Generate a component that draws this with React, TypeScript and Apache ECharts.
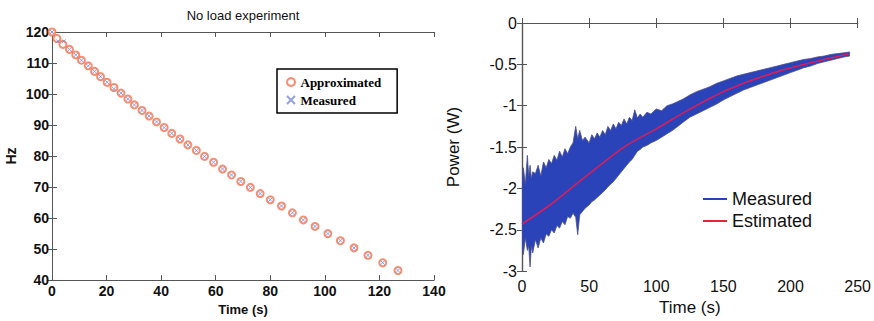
import React, { useEffect, useRef } from "react";
import * as echarts from "echarts";

// ---------- Left chart: No load experiment ----------
const approxT = [0, 1.8, 4.0, 6.4, 8.7, 10.8, 13.3, 15.6, 17.8, 20.2, 22.7, 25.3, 27.8, 30.2, 33.0, 35.6, 38.3, 41.1, 43.9, 46.9, 49.8, 52.9, 55.9, 59.2, 62.5, 65.8, 69.2, 72.7, 76.3, 80.0, 84.1, 88.1, 92.1, 96.4, 101.1, 105.7, 110.7, 115.8, 121.2, 126.8];
const approxHz = [120, 117.9, 116.0, 114.4, 112.6, 110.9, 109.1, 107.3, 105.6, 103.8, 102.1, 100.3, 98.4, 96.5, 94.7, 92.9, 91.0, 89.2, 87.3, 85.5, 83.6, 81.8, 79.9, 78.0, 75.8, 73.9, 71.8, 69.9, 67.9, 65.9, 63.9, 61.7, 59.4, 57.3, 55.0, 52.7, 50.4, 48.0, 45.6, 43.1];
const measT = [0, 2.2, 4.3, 6.4, 8.7, 10.8, 13.3, 15.6, 17.8, 20.2, 22.7, 25.3, 27.8, 30.2, 33.0, 35.6, 38.3, 41.1, 43.9, 46.9, 49.8, 52.9, 55.9, 59.2, 62.5, 65.8, 69.2, 72.7, 76.3, 80.0, 84.1, 88.1, 92.1, 96.4, 101.1, 105.7, 110.7, 115.8, 121.2, 126.8];
const measHz = [120, 117.0, 117.0, 114.4, 112.6, 110.9, 109.1, 107.3, 105.6, 103.8, 101.7, 100.3, 98.4, 96.5, 94.7, 92.9, 91.0, 89.2, 87.3, 85.5, 83.6, 81.8, 79.9, 78.0, 75.8, 73.9, 71.8, 69.9, 67.9, 65.9, 63.9, 61.7, 59.4, 57.3, 55.0, 52.7, 50.4, 48.0, 45.6, 43.1];

// ---------- Right chart: Power ----------
const bandT = [0, 1, 2.5, 4, 5, 6, 7, 8, 10, 12, 14, 16, 18, 20, 22, 24, 26, 28, 30, 32, 34, 36, 38, 40, 41.5, 43, 45, 47, 50, 52, 54, 56, 58, 60, 62, 64, 66, 68, 70, 72, 74, 76, 78, 80, 82, 84, 86, 88, 90, 93, 96, 100, 104, 108, 112, 116, 120, 125, 130, 135, 140, 145, 150, 155, 160, 165, 170, 175, 180, 185, 190, 195, 200, 205, 210, 215, 220, 225, 230, 235, 240, 244];
const bandUpper = [-1.95, -1.75, -1.95, -1.6, -1.85, -1.72, -1.88, -1.8, -1.82, -1.72, -1.85, -1.68, -1.75, -1.65, -1.7, -1.6, -1.66, -1.55, -1.62, -1.52, -1.58, -1.5, -1.45, -1.25, -1.4, -1.3, -1.42, -1.38, -1.45, -1.35, -1.4, -1.33, -1.38, -1.3, -1.35, -1.25, -1.3, -1.22, -1.28, -1.2, -1.24, -1.16, -1.22, -1.14, -1.18, -1.05, -1.15, -1.1, -1.14, -1.08, -1.1, -1.04, -1.06, -1.0, -0.98, -0.95, -0.92, -0.87, -0.83, -0.8, -0.77, -0.73, -0.7, -0.67, -0.64, -0.62, -0.6, -0.58, -0.56, -0.54, -0.52, -0.5, -0.48, -0.46, -0.44, -0.43, -0.41, -0.4, -0.38, -0.37, -0.36, -0.35];
const bandLower = [-2.65, -2.8, -2.6, -2.75, -2.7, -2.95, -2.7, -2.78, -2.62, -2.72, -2.6, -2.66, -2.55, -2.58, -2.5, -2.54, -2.45, -2.48, -2.4, -2.44, -2.34, -2.36, -2.3, -2.35, -2.56, -2.32, -2.28, -2.24, -2.2, -2.16, -2.14, -2.11, -2.08, -2.05, -2.02, -1.98, -1.95, -1.92, -1.88, -1.84, -1.8, -1.76, -1.72, -1.68, -1.65, -1.6, -1.55, -1.53, -1.5, -1.48, -1.45, -1.42, -1.38, -1.34, -1.3, -1.25, -1.2, -1.14, -1.1, -1.06, -1.02, -0.98, -0.93, -0.89, -0.85, -0.81, -0.78, -0.75, -0.72, -0.69, -0.66, -0.63, -0.6, -0.57, -0.54, -0.52, -0.49, -0.47, -0.45, -0.43, -0.41, -0.4];
const estT = [0, 20, 44, 76, 100, 124, 154, 194, 243];
const estP = [-2.43, -2.21, -1.9, -1.5, -1.28, -1.05, -0.8, -0.57, -0.375];

const leftXTicks = { min: 0, max: 140, interval: 20 };
const leftYTicks = { min: 40, max: 120, interval: 10 };
const rightXTicks = { min: 0, max: 250, interval: 50 };
const rightYTicks = { min: -3, max: 0, interval: 0.5 };

const SANS = "Liberation Sans, Arial, Helvetica, sans-serif";
const SERIF = "Liberation Serif, Times New Roman, serif";

export default function App() {
  const ref = useRef<HTMLDivElement>(null);
  useEffect(() => {
    if (!ref.current) return;
    const chart = echarts.init(ref.current, null, { renderer: "svg" });
    const axisLineL = { lineStyle: { color: "#555", width: 1 } };
    const axisLineR = { lineStyle: { color: "#555", width: 1.2 } };
    const tickIn = (c: string) => ({ inside: true, length: 5, lineStyle: { color: c } });

    const bandRender = (params: any, api: any) => {
      if (params.dataIndex !== 0) return null;
      const pts: number[][] = [];
      for (let i = 0; i < bandT.length; i++) pts.push(api.coord([bandT[i], bandUpper[i]]));
      for (let i = bandT.length - 1; i >= 0; i--) pts.push(api.coord([bandT[i], bandLower[i]]));
      return {
        type: "polygon",
        shape: { points: pts },
        style: { fill: "#2b43b8", stroke: "#4a4f8a", lineWidth: 0.8 },
      };
    };

    const option: any = {
      animation: false,
      backgroundColor: "#fff",
      grid: [
        { left: 52, top: 32, width: 382, height: 255 },
        { left: 522, top: 23, width: 337, height: 254 },
      ],
      xAxis: [
        {
          gridIndex: 0, type: "value", ...leftXTicks,
          axisLine: axisLineL, axisTick: tickIn("#555"), splitLine: { show: false },
          axisLabel: { color: "#111", fontSize: 14, fontWeight: "bold", fontFamily: SANS, margin: 4 },
          name: "Time (s)", nameLocation: "middle", nameGap: 19,
          nameTextStyle: { color: "#111", fontSize: 13, fontWeight: "bold", fontFamily: SANS },
        },
        {
          gridIndex: 0, type: "value", position: "top", ...leftXTicks,
          axisLine: axisLineL, axisTick: tickIn("#555"), splitLine: { show: false }, axisLabel: { show: false },
        },
        {
          gridIndex: 1, type: "value", ...rightXTicks,
          axisLine: axisLineR, axisTick: tickIn("#555"), splitLine: { show: false },
          axisLabel: { color: "#111", fontSize: 16, fontFamily: SANS, margin: 7 },
          name: "Time (s)", nameLocation: "middle", nameGap: 21,
          nameTextStyle: { color: "#111", fontSize: 17, fontFamily: SANS },
        },
        {
          gridIndex: 1, type: "value", position: "top", ...rightXTicks,
          axisLine: axisLineR, axisTick: tickIn("#555"), splitLine: { show: false }, axisLabel: { show: false },
        },
      ],
      yAxis: [
        {
          gridIndex: 0, type: "value", ...leftYTicks,
          axisLine: axisLineL, axisTick: tickIn("#555"), splitLine: { show: false },
          axisLabel: { color: "#111", fontSize: 14, fontWeight: "bold", fontFamily: SANS, margin: 3 },
          name: "Hz", nameLocation: "middle", nameGap: 34, nameRotate: 90,
          nameTextStyle: { color: "#111", fontSize: 14, fontWeight: "bold", fontFamily: SANS },
        },
        {
          gridIndex: 0, type: "value", position: "right", ...leftYTicks,
          axisLine: axisLineL, axisTick: tickIn("#555"), splitLine: { show: false }, axisLabel: { show: false },
        },
        {
          gridIndex: 1, type: "value", ...rightYTicks,
          axisLine: axisLineR, axisTick: tickIn("#555"), splitLine: { show: false },
          axisLabel: { color: "#111", fontSize: 16, fontFamily: SANS, margin: 5 },
          name: "Power (W)", nameLocation: "middle", nameGap: 60, nameRotate: 90,
          nameTextStyle: { color: "#111", fontSize: 17, fontFamily: SANS },
        },
        {
          gridIndex: 1, type: "value", position: "right", ...rightYTicks,
          axisLine: axisLineR, axisTick: tickIn("#555"), splitLine: { show: false }, axisLabel: { show: false },
        },
      ],
      graphic: [
        {
          type: "text", x: 243, y: 15,
          style: { text: "No load experiment", fontSize: 13, fontFamily: SANS, fill: "#111", align: "center", verticalAlign: "middle" },
        },
      ],
      legend: [
        {
          data: ["Approximated", "Measured data"],
          formatter: (n: string) => (n === "Measured data" ? "Measured" : n),
          orient: "vertical", left: 277, top: 69,
          padding: [5, 16, 5, 9], itemGap: 2, itemWidth: 9, itemHeight: 8,
          borderColor: "#000", borderWidth: 1.5, backgroundColor: "#fff",
          textStyle: { fontFamily: SERIF, fontWeight: "bold", fontSize: 13, color: "#000", lineHeight: 16 },
          selectedMode: false,
        },
        {
          data: ["Measured", "Estimated"],
          orient: "vertical", left: 698, top: 184,
          itemGap: 2, itemWidth: 24, itemHeight: 2, icon: "rect",
          textStyle: { fontFamily: SANS, fontSize: 18, color: "#111", lineHeight: 20 },
          selectedMode: false,
        },
      ],
      series: [
        {
          name: "Approximated", type: "scatter", xAxisIndex: 0, yAxisIndex: 0, clip: false,
          symbol: "emptyCircle", symbolSize: 7,
          itemStyle: { color: "#f4704f", borderColor: "#f4704f", borderWidth: 1.2 },
          data: approxT.map((t, i) => [t, approxHz[i]]),
        },
        {
          name: "Measured data", type: "scatter", xAxisIndex: 0, yAxisIndex: 0, clip: false,
          symbol: "path://M0,0L10,10M10,0L0,10", symbolSize: 4,
          itemStyle: { color: "#7a8ad6", borderColor: "#7a8ad6", borderWidth: 1 },
          data: measT.map((t, i) => [t, measHz[i]]),
        },
        {
          name: "Measured", type: "custom", xAxisIndex: 2, yAxisIndex: 2,
          renderItem: bandRender, clip: true,
          itemStyle: { color: "#2b43b8" },
          encode: { x: 0, y: [1, 2] },
          data: bandT.map((t, i) => [t, bandLower[i], bandUpper[i]]),
        },
        {
          name: "Estimated", type: "line", xAxisIndex: 2, yAxisIndex: 2,
          symbol: "none", smooth: 0.3, z: 5,
          itemStyle: { color: "#e5243a" },
          lineStyle: { color: "#d81e5b", width: 1.6 },
          data: estT.map((t, i) => [t, estP[i]]),
        },
      ],
    };
    chart.setOption(option);
    return () => chart.dispose();
  }, []);
  return (
    <div
      ref={ref}
      style={{ position: "fixed", left: 0, top: 0, width: 874, height: 321, background: "#fff" }}
    />
  );
}
